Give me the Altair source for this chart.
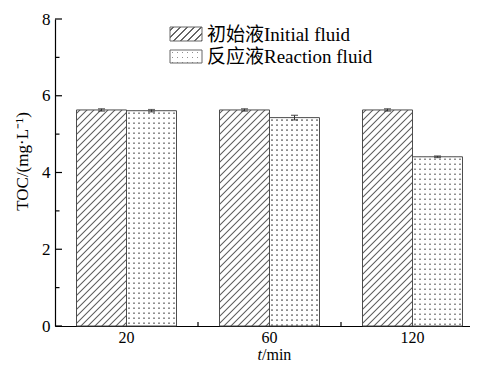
import altair as alt
import pandas as pd

# ---------------- data ----------------
times = ["20", "60", "120"]
series = ["初始液Initial fluid", "反应液Reaction fluid"]
initial_toc = [5.63, 5.63, 5.63]
initial_err = [0.03, 0.03, 0.03]
reaction_toc = [5.61, 5.43, 4.41]
reaction_err = [0.03, 0.06, 0.02]
y_major = [0, 2, 4, 6, 8]
y_minor = [1, 3, 5, 7]
y_title = "TOC/(mg·L⁻¹)"
x_title_italic = "t"
x_title_rest = "/min"

# ---------------- style ----------------
FONT = "Liberation Serif, Times New Roman, Noto Sans CJK SC, serif"
STEP = 143
W = 3 * STEP
H = 307
PAD_L, PAD_T = 47, 11
SVG_W, SVG_H = 462, 354
P_IN = 43 / 143
P_OUT = P_IN / 2
OUTER_PX = P_OUT * STEP
BAR_W = STEP * (1 - P_IN) / 2
PX_PER = H / 8

rows = []
for i, t in enumerate(times):
    rows.append(dict(time=t, series=series[0], toc=initial_toc[i], err=initial_err[i]))
    rows.append(dict(time=t, series=series[1], toc=reaction_toc[i], err=reaction_err[i]))
df = pd.DataFrame(rows)
df["lo"] = df["toc"] - df["err"]
df["hi"] = df["toc"] + df["err"]


def stripe_stops(total, period, on, off, width=1.0, soft=0.6, phase=None):
    stops = [{"offset": 0, "color": off}]
    s = period / 2 if phase is None else phase
    while s - width / 2 - soft < total:
        for p, c in [(s - width / 2 - soft, off), (s - width / 2, on),
                     (s + width / 2, on), (s + width / 2 + soft, off)]:
            o = min(max(p / total, 0.0), 1.0)
            stops.append({"offset": round(o, 5), "color": c})
        s += period
    stops.append({"offset": 1, "color": off})
    last = 0
    for st in stops:
        if st["offset"] < last:
            st["offset"] = last
        last = st["offset"]
    return stops


def hatch(w, h, period=7.0):
    r = w / h
    b = (r + 1) / (r * r + 1)
    a = r * b
    return {"gradient": "linear", "x1": 0, "y1": 0, "x2": round(a, 5), "y2": round(b, 5),
            "stops": stripe_stops(w + h, period, "#666666", "#ffffff", width=1.0, soft=0.7)}


def dot_cols(w, period=5.0):
    return {"gradient": "linear", "x1": 0, "y1": 0, "x2": 1, "y2": 0,
            "stops": stripe_stops(w, period, "#909090", "#ffffff", width=1.0, soft=0.5)}


def dot_mask(h, period=5.0):
    return {"gradient": "linear", "x1": 0, "y1": 0, "x2": 0, "y2": 1,
            "stops": stripe_stops(h, period, "rgba(255,255,255,0)", "#ffffff", width=1.0, soft=0.5)}


xscale = alt.Scale(domain=times, paddingInner=P_IN, paddingOuter=P_OUT)
oscale = alt.Scale(domain=series, paddingInner=0, paddingOuter=0)
yscale = alt.Scale(domain=[0, 8], nice=False, zero=True)

xaxis = alt.Axis(title=None, labelFont=FONT, labelFontSize=16, labelColor="black",
                 labelPadding=3, ticks=False, domainColor="black", domainWidth=1.2,
                 labelAngle=0, grid=False)
yaxis = alt.Axis(values=y_major, title=y_title, titleFont=FONT, titleFontSize=17,
                 titleFontWeight="normal", titleColor="black", titleAngle=270,
                 titleAlign="center", titleBaseline="middle", titleX=-33, titleY=142,
                 labelFont=FONT, labelFontSize=17, labelColor="black", labelPadding=5,
                 ticks=False, domainColor="black", domainWidth=1.2, grid=False)


def X(**kw):
    return alt.X("time:N", scale=xscale, axis=xaxis, sort=times, **kw)


def Yf(field):
    return alt.Y(f"{field}:Q", scale=yscale, axis=yaxis)


XO = alt.XOffset("series:N", scale=oscale, sort=series)

base = alt.Chart(df)
init_h = initial_toc[0] * PX_PER

layers = []
layers.append(base.transform_filter(alt.datum.series == series[0])
              .mark_bar(fill=hatch(BAR_W, init_h), strokeWidth=0)
              .encode(x=X(), xOffset=XO, y=Yf("toc")))
layers.append(base.transform_filter(alt.datum.series == series[1])
              .mark_bar(fill=dot_cols(BAR_W), strokeWidth=0)
              .encode(x=X(), xOffset=XO, y=Yf("toc")))
for i, t in enumerate(times):
    h = reaction_toc[i] * PX_PER
    layers.append(base.transform_filter((alt.datum.series == series[1]) & (alt.datum.time == t))
                  .mark_bar(fill=dot_mask(h), strokeWidth=0)
                  .encode(x=X(), xOffset=XO, y=Yf("toc")))
layers.append(base.mark_bar(fill="transparent", stroke="#4d4d4d", strokeWidth=1)
              .encode(x=X(), xOffset=XO, y=Yf("toc")))

# error bars
layers.append(base.mark_rule(color="#333333", strokeWidth=1)
              .encode(x=X(), xOffset=XO, y=Yf("lo"), y2="hi:Q"))
for f in ["lo", "hi"]:
    layers.append(base.mark_tick(color="#333333", size=7, thickness=1.3)
                  .encode(x=X(), xOffset=XO, y=Yf(f)))

# inward y ticks
layers.append(alt.Chart(pd.DataFrame({"v": y_major})).mark_rule(color="black", strokeWidth=1.2)
              .encode(y=Yf("v"), x=alt.value(0), x2=alt.value(7)))
layers.append(alt.Chart(pd.DataFrame({"v": y_minor})).mark_rule(color="black", strokeWidth=1.2)
              .encode(y=Yf("v"), x=alt.value(0), x2=alt.value(4.5)))
# inward x ticks at group boundaries
layers.append(alt.Chart(pd.DataFrame({"time": times[1:]}))
              .mark_rule(color="black", strokeWidth=1.2, xOffset=-OUTER_PX)
              .encode(x=X(bandPosition=0), y=alt.value(H), y2=alt.value(H - 4)))

# legend
one = pd.DataFrame({"a": [0]})
LX, LX2 = 115, 147
layers.append(alt.Chart(one).mark_rect(fill=hatch(LX2 - LX, 14), stroke="#666666", strokeWidth=1)
              .encode(x=alt.value(LX), x2=alt.value(LX2), y=alt.value(8), y2=alt.value(22)))
layers.append(alt.Chart(one).mark_rect(fill=dot_cols(LX2 - LX), strokeWidth=0)
              .encode(x=alt.value(LX), x2=alt.value(LX2), y=alt.value(31), y2=alt.value(44)))
layers.append(alt.Chart(one).mark_rect(fill=dot_mask(13), stroke="#666666", strokeWidth=1)
              .encode(x=alt.value(LX), x2=alt.value(LX2), y=alt.value(31), y2=alt.value(44)))
layers.append(alt.Chart(pd.DataFrame({"label": [series[0]]}))
              .mark_text(align="left", baseline="middle", font=FONT, fontSize=19, color="black")
              .encode(x=alt.value(152), y=alt.value(15.5), text="label:N"))
layers.append(alt.Chart(pd.DataFrame({"label": [series[1]]}))
              .mark_text(align="left", baseline="middle", font=FONT, fontSize=19, color="black")
              .encode(x=alt.value(152), y=alt.value(38), text="label:N"))

# x title: italic t + /min
TY = 341
layers.append(alt.Chart(pd.DataFrame({"label": [x_title_italic]}))
              .mark_text(align="right", baseline="alphabetic", font=FONT, fontSize=16,
                         fontStyle="italic", color="black")
              .encode(x=alt.value(207), y=alt.value(TY), text="label:N"))
layers.append(alt.Chart(pd.DataFrame({"label": [x_title_rest]}))
              .mark_text(align="left", baseline="alphabetic", font=FONT, fontSize=16, color="black")
              .encode(x=alt.value(207), y=alt.value(TY), text="label:N"))

chart = alt.layer(*layers).properties(
    width=W, height=H,
    autosize=alt.AutoSizeParams(type="none"),
    padding={"left": PAD_L, "top": PAD_T, "right": SVG_W - PAD_L - W,
             "bottom": SVG_H - PAD_T - H},
    background="white",
).configure_view(stroke="transparent")

chart.save("out.html", embed_options={"renderer": "svg", "actions": False})
